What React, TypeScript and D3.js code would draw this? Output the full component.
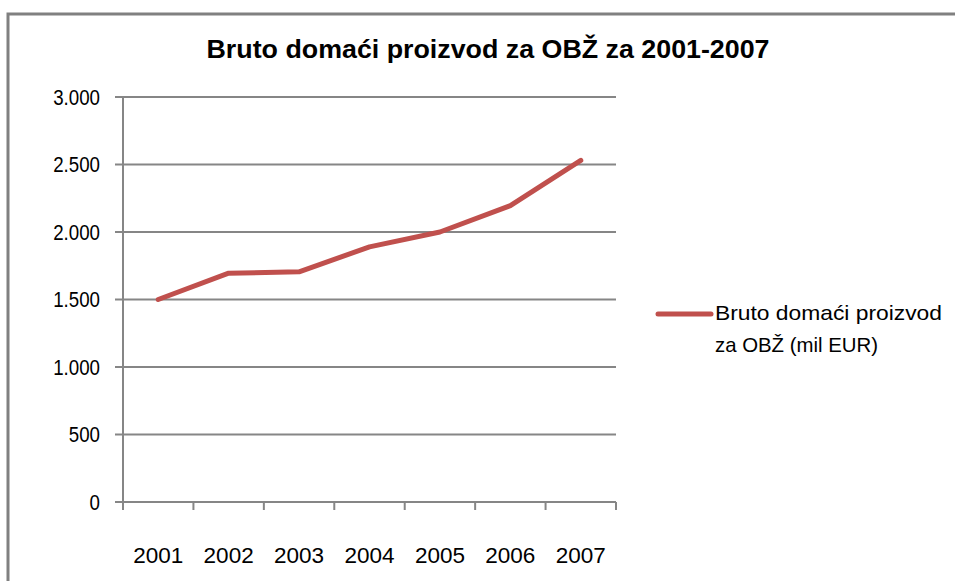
import React from "react";
import * as d3 from "d3";

const years = ["2001", "2002", "2003", "2004", "2005", "2006", "2007"];
const gdpValues = [1500, 1695, 1705, 1890, 2000, 2195, 2530];
const yTicks = [0, 500, 1000, 1500, 2000, 2500, 3000];
const titleText = "Bruto domaći proizvod za OBŽ za 2001-2007";
const legendLines = ["Bruto domaći proizvod", "za OBŽ (mil EUR)"];

const W = 955;
const H = 581;
const FONT = "'Liberation Sans', Arial, sans-serif";

export default function App() {
  const x = d3.scaleBand<string>().domain(years).range([123, 616]).padding(0);
  const y = d3.scaleLinear().domain([0, 3000]).range([502, 97]);
  const fmt = (v: number) => (v >= 1000 ? d3.format(",")(v).replace(/,/g, ".") : String(v));
  const line = d3
    .line<number>()
    .x((_, i) => (x(years[i]) as number) + x.bandwidth() / 2)
    .y((d) => y(d));
  const grid = "#868686";
  const red = "#C0504D";
  const xTickPositions = [...years.map((d) => x(d) as number), 616];
  const legendWidths = [227, 163];

  return (
    <svg
      width={W}
      height={H}
      style={{ position: "absolute", left: 0, top: 0, background: "#fff" }}
    >
      <rect x={0} y={0} width={W} height={H} fill="#fff" />
      <rect x={8} y={14} width={980} height={620} fill="none" stroke="#808080" strokeWidth={3} />
      <text
        x={488}
        y={58}
        textAnchor="middle"
        fontFamily={FONT}
        fontWeight="bold"
        fontSize={25}
        textLength={563}
        lengthAdjust="spacingAndGlyphs"
        fill="#000"
      >
        {titleText}
      </text>
      {yTicks.map((t) => (
        <g key={t}>
          <line x1={115} x2={616} y1={y(t)} y2={y(t)} stroke={grid} strokeWidth={2} />
          <text
            transform={`translate(100,${y(t) + 7.5}) scale(0.87,1)`}
            textAnchor="end"
            fontFamily={FONT}
            fontSize={21.5}
            fill="#000"
          >
            {fmt(t)}
          </text>
        </g>
      ))}
      <line x1={123} x2={123} y1={97} y2={510} stroke={grid} strokeWidth={2} />
      {xTickPositions.map((p, i) => (
        <line key={i} x1={p} x2={p} y1={502} y2={510} stroke={grid} strokeWidth={2} />
      ))}
      {years.map((yr) => (
        <text
          key={yr}
          x={(x(yr) as number) + x.bandwidth() / 2}
          y={563}
          textAnchor="middle"
          fontFamily={FONT}
          fontSize={22.5}
          fill="#000"
        >
          {yr}
        </text>
      ))}
      <path d={line(gdpValues) || ""} fill="none" stroke={red} strokeWidth={5} strokeLinejoin="round" strokeLinecap="round" />
      <line x1={658} x2={711} y1={314} y2={314} stroke={red} strokeWidth={5} strokeLinecap="round" />
      {legendLines.map((l, i) => (
        <text
          key={i}
          x={715}
          y={320 + i * 32}
          fontFamily={FONT}
          fontSize={21}
          textLength={legendWidths[i]}
          lengthAdjust="spacingAndGlyphs"
          fill="#000"
        >
          {l}
        </text>
      ))}
    </svg>
  );
}
